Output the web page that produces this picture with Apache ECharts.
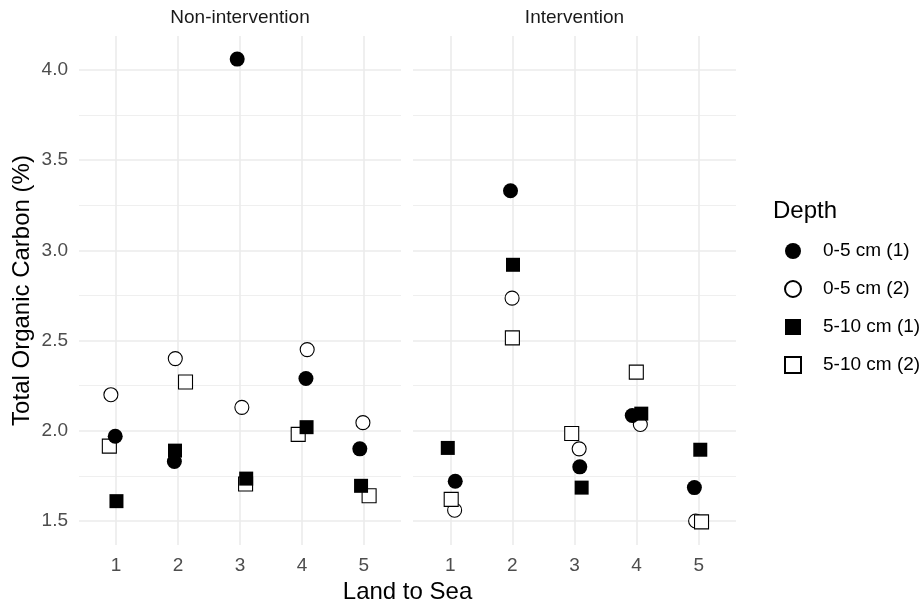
<!DOCTYPE html>
<html>
<head>
<meta charset="utf-8">
<title>Total Organic Carbon by site</title>
<script src="https://cdn.jsdelivr.net/npm/echarts@6/dist/echarts.min.js"></script>
<style>
  html, body { margin: 0; padding: 0; background: #ffffff; }
  #chart { width: 924px; height: 603px; }
</style>
</head>
<body>
<div id="chart"></div>
<script>
// Panels and legend entries
const panels = ['Non-intervention', 'Intervention'];
const depthNames = ['0-5 cm (1)', '0-5 cm (2)', '5-10 cm (1)', '5-10 cm (2)'];
const siteTicks = [1, 2, 3, 4, 5];
const tocTicks = [1.5, 2.0, 2.5, 3.0, 3.5, 4.0];
const tocMinorTicks = [1.75, 2.25, 2.75, 3.25, 3.75];

// Non-intervention: jittered site positions and TOC (%)
const nonX_0_5_1 = [0.985, 1.94, 2.955, 4.065, 4.935];
const nonY_0_5_1 = [1.97, 1.83, 4.06, 2.29, 1.90];
const nonX_0_5_2 = [0.915, 1.955, 3.03, 4.085, 4.985];
const nonY_0_5_2 = [2.20, 2.40, 2.13, 2.45, 2.045];
const nonX_5_10_1 = [1.005, 1.95, 3.10, 4.075, 4.955];
const nonY_5_10_1 = [1.61, 1.89, 1.735, 2.02, 1.695];
const nonX_5_10_2 = [0.89, 2.12, 3.09, 3.94, 5.085];
const nonY_5_10_2 = [1.915, 2.27, 1.705, 1.98, 1.64];

// Intervention: jittered site positions and TOC (%)
const intX_0_5_1 = [1.08, 1.97, 3.085, 3.93, 4.93];
const intY_0_5_1 = [1.72, 3.33, 1.80, 2.085, 1.685];
const intX_0_5_2 = [1.07, 1.995, 3.075, 4.06, 4.95];
const intY_0_5_2 = [1.56, 2.735, 1.90, 2.035, 1.50];
const intX_5_10_1 = [0.96, 2.01, 3.115, 4.075, 5.025];
const intY_5_10_1 = [1.905, 2.92, 1.685, 2.095, 1.895];
const intX_5_10_2 = [1.015, 2.0, 2.955, 3.995, 5.045];
const intY_5_10_2 = [1.62, 2.515, 1.985, 2.325, 1.495];

const FONT = "'Liberation Sans', Arial, sans-serif";
const GRID_COLOR = '#ebebeb';

function pairs(xs, ys) {
  return xs.map((x, i) => [x, ys[i]]);
}

// Marker appearance for each depth
const depthStyle = {
  '0-5 cm (1)': { symbol: 'circle', size: 15, itemStyle: { color: '#000000', borderWidth: 0, opacity: 1 } },
  '0-5 cm (2)': { symbol: 'circle', size: 14, itemStyle: { color: '#ffffff', borderColor: '#000000', borderWidth: 1.1, opacity: 1 } },
  '5-10 cm (1)': { symbol: 'rect', size: 14, itemStyle: { color: '#000000', borderWidth: 0, opacity: 1 } },
  '5-10 cm (2)': { symbol: 'rect', size: 14, itemStyle: { color: '#ffffff', borderColor: '#000000', borderWidth: 1.1, opacity: 1 } }
};

const panelData = [
  {
    '0-5 cm (1)': pairs(nonX_0_5_1, nonY_0_5_1),
    '0-5 cm (2)': pairs(nonX_0_5_2, nonY_0_5_2),
    '5-10 cm (1)': pairs(nonX_5_10_1, nonY_5_10_1),
    '5-10 cm (2)': pairs(nonX_5_10_2, nonY_5_10_2)
  },
  {
    '0-5 cm (1)': pairs(intX_0_5_1, intY_0_5_1),
    '0-5 cm (2)': pairs(intX_0_5_2, intY_0_5_2),
    '5-10 cm (1)': pairs(intX_5_10_1, intY_5_10_1),
    '5-10 cm (2)': pairs(intX_5_10_2, intY_5_10_2)
  }
];

// Open markers are drawn first so filled ones sit on top where they overlap
const drawOrder = ['0-5 cm (2)', '5-10 cm (2)', '0-5 cm (1)', '5-10 cm (1)'];

const grids = [
  { left: 79, top: 36, width: 322, height: 509 },
  { left: 413, top: 36, width: 323, height: 509 }
];

const xAxes = grids.map((g, i) => ({
  type: 'value',
  gridIndex: i,
  min: 0.4,
  max: 5.6,
  axisLine: { show: false },
  axisTick: { show: false },
  splitLine: { show: false },
  axisLabel: {
    customValues: siteTicks,
    margin: 11,
    fontSize: 19,
    fontFamily: FONT,
    color: '#4d4d4d',
    formatter: v => String(Math.round(v))
  }
}));

const yAxes = grids.map((g, i) => ({
  type: 'value',
  gridIndex: i,
  min: 1.367,
  max: 4.188,
  axisLine: { show: false },
  axisTick: { show: false },
  splitLine: { show: false },
  axisLabel: {
    show: i === 0,
    customValues: tocTicks,
    margin: 11,
    fontSize: 19,
    fontFamily: FONT,
    color: '#4d4d4d',
    formatter: v => v.toFixed(1)
  }
}));

// Panel grid lines, placed through each panel's own scales
function gridLineSeries(i) {
  const major = { color: GRID_COLOR, width: 1.6, type: 'solid' };
  const minor = { color: GRID_COLOR, width: 0.8, type: 'solid' };
  const lines = [];
  tocMinorTicks.forEach(v => lines.push({ yAxis: v, lineStyle: minor }));
  tocTicks.forEach(v => lines.push({ yAxis: v, lineStyle: major }));
  siteTicks.forEach(v => lines.push({ xAxis: v, lineStyle: major }));
  return {
    type: 'scatter',
    xAxisIndex: i,
    yAxisIndex: i,
    data: [],
    silent: true,
    z: 1,
    markLine: {
      silent: true,
      symbol: ['none', 'none'],
      label: { show: false },
      animation: false,
      data: lines
    }
  };
}

const series = [gridLineSeries(0), gridLineSeries(1)];
panelData.forEach((pd, i) => {
  drawOrder.forEach(name => {
    const st = depthStyle[name];
    series.push({
      type: 'scatter',
      name: name,
      xAxisIndex: i,
      yAxisIndex: i,
      symbol: st.symbol,
      symbolSize: st.size,
      itemStyle: st.itemStyle,
      z: 10,
      animation: false,
      data: pd[name]
    });
  });
});

const chart = echarts.init(document.getElementById('chart'), null, { renderer: 'canvas' });

chart.setOption({
  backgroundColor: '#ffffff',
  animation: false,
  grid: grids,
  xAxis: xAxes,
  yAxis: yAxes,
  legend: {
    data: depthNames,
    orient: 'vertical',
    left: 784,
    top: 241.5,
    padding: 0,
    itemWidth: 16,
    itemHeight: 16,
    itemGap: 19,
    selectedMode: false,
    textStyle: { fontSize: 19, fontFamily: FONT, color: '#000000', padding: [0, 0, 0, 17] }
  },
  graphic: [
    {
      type: 'text', x: 240, y: 18,
      style: { text: panels[0], font: '19px ' + FONT, fill: '#1a1a1a', align: 'center', verticalAlign: 'middle' }
    },
    {
      type: 'text', x: 574.5, y: 18,
      style: { text: panels[1], font: '19px ' + FONT, fill: '#1a1a1a', align: 'center', verticalAlign: 'middle' }
    },
    {
      type: 'text', x: 407.5, y: 592,
      style: { text: 'Land to Sea', font: '24px ' + FONT, fill: '#000000', align: 'center', verticalAlign: 'middle' }
    },
    {
      type: 'text', x: 22, y: 290.5, rotation: Math.PI / 2,
      style: { text: 'Total Organic Carbon (%)', font: '24px ' + FONT, fill: '#000000', align: 'center', verticalAlign: 'middle' }
    },
    {
      type: 'text', x: 773, y: 211,
      style: { text: 'Depth', font: '24px ' + FONT, fill: '#000000', align: 'left', verticalAlign: 'middle' }
    }
  ],
  series: series
});
</script>
</body>
</html>
